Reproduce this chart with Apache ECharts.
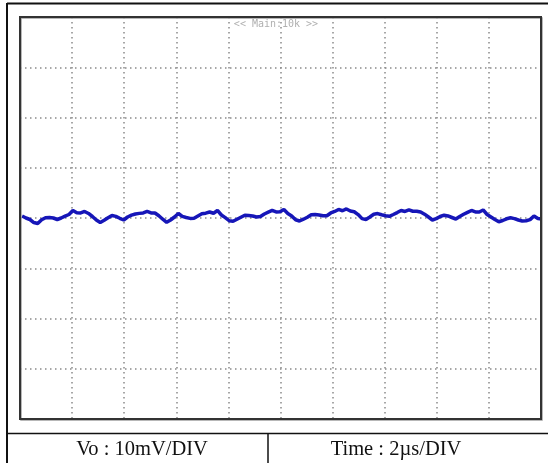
<!DOCTYPE html>
<html>
<head>
<meta charset="utf-8">
<script src="https://cdn.jsdelivr.net/npm/echarts@6/dist/echarts.min.js"></script>
<style>
html,body{margin:0;padding:0;background:#fff;}
#chart{width:548px;height:463px;}
</style>
</head>
<body>
<div id="chart"></div>
<script>
// Time axis: 2 µs/DIV, 10 divisions; Voltage axis: 10 mV/DIV, 8 divisions
const timeDivs = [0, 2, 4, 6, 8, 10, 12, 14, 16, 18, 20];
const voltDivs = [-40, -30, -20, -10, 0, 10, 20, 30, 40];
const sampleStart = 0.08;   // µs
const sampleStep = 0.15;    // µs
// Vo ripple (mV)
const voValues = [
  0.4, 0.0, -0.3, -0.9, -1.1, -0.36, 0.06, 0.12, 0.0, -0.3,
  0.0, 0.36, 0.7, 1.5, 1.04, 1.0, 1.3, 0.9, 0.3, -0.4,
  -0.9, -0.46, 0.04, 0.5, 0.32, -0.06, -0.4, 0.2, 0.56, 0.8,
  0.92, 1.0, 1.3, 1.0, 1.0, 0.44, -0.24, -0.85, -0.4, 0.2,
  0.9, 0.32, 0.1, -0.08, -0.04, 0.4, 0.84, 0.96, 1.2, 0.94,
  1.5, 0.6, 0.08, -0.55, -0.65, -0.24, 0.16, 0.56, 0.48, 0.4,
  0.2, 0.3, 0.8, 1.16, 1.5, 1.2, 1.24, 1.7, 0.9, 0.4,
  -0.35, -0.6, -0.24, 0.16, 0.64, 0.7, 0.6, 0.44, 0.44, 1.0,
  1.3, 1.7, 1.44, 1.8, 1.4, 1.24, 0.68, -0.12, -0.3, 0.2,
  0.74, 0.88, 0.64, 0.44, 0.34, 0.7, 1.08, 1.5, 1.3, 1.6,
  1.34, 1.36, 1.2, 0.76, 0.2, -0.4, -0.12, 0.3, 0.56, 0.4,
  0.1, -0.2, 0.3, 0.74, 1.12, 1.5, 1.2, 1.2, 1.6, 0.7,
  0.2, -0.3, -0.75, -0.5, -0.16, 0.04, -0.12, -0.4, -0.6, -0.55,
  -0.32, 0.4, -0.1, -0.2
];
const header = '<< Main:10k >>';
const leftLabel = 'Vo : 10mV/DIV';
const rightLabel = 'Time : 2\u00b5s/DIV';

const seriesData = voValues.map((v, i) => [sampleStart + i * sampleStep, v]);

const chart = echarts.init(document.getElementById('chart'));
const dotted = { show: true, lineStyle: { color: '#8a8a8a', width: 1.5, type: [1.5, 3.5] } };
chart.setOption({
  animation: false,
  backgroundColor: '#fff',
  grid: { left: 20, top: 17, width: 521, height: 402, show: false },
  xAxis: {
    type: 'value', min: timeDivs[0], max: timeDivs[timeDivs.length - 1], interval: timeDivs[1] - timeDivs[0],
    axisLine: { show: false }, axisTick: { show: false }, axisLabel: { show: false }, splitLine: dotted
  },
  yAxis: {
    type: 'value', min: voltDivs[0], max: voltDivs[voltDivs.length - 1], interval: voltDivs[1] - voltDivs[0],
    axisLine: { show: false }, axisTick: { show: false }, axisLabel: { show: false }, splitLine: dotted
  },
  series: [{
    type: 'line', data: seriesData, showSymbol: false, smooth: false,
    lineStyle: { color: '#1616b8', width: 3.5 }
  }],
  graphic: [
    { type: 'rect', z: 100, shape: { x: 21, y: 18, width: 521, height: 402 }, style: { fill: 'none', stroke: '#a0a0a0', lineWidth: 1.5 } },
    { type: 'rect', z: 101, shape: { x: 20, y: 17, width: 521, height: 402 }, style: { fill: 'none', stroke: '#333', lineWidth: 2 } },
    { type: 'line', shape: { x1: 7, y1: 3.5, x2: 548, y2: 3.5 }, style: { stroke: '#111', lineWidth: 2 } },
    { type: 'line', shape: { x1: 7, y1: 3, x2: 7, y2: 463 }, style: { stroke: '#111', lineWidth: 2 } },
    { type: 'line', shape: { x1: 7, y1: 433.5, x2: 548, y2: 433.5 }, style: { stroke: '#111', lineWidth: 1.5 } },
    { type: 'line', shape: { x1: 268, y1: 433, x2: 268, y2: 463 }, style: { stroke: '#111', lineWidth: 1.5 } },
    { type: 'text', x: 276, y: 24, style: { text: header, fill: '#b0b0b0', font: '10px "DejaVu Sans Mono", monospace', textAlign: 'center', textVerticalAlign: 'middle' } },
    { type: 'text', x: 142, y: 450, style: { text: leftLabel, fill: '#111', font: '20.5px "Liberation Serif", serif', textAlign: 'center', textVerticalAlign: 'middle' } },
    { type: 'text', x: 396, y: 450, style: { text: rightLabel, fill: '#111', font: '20.5px "Liberation Serif", serif', textAlign: 'center', textVerticalAlign: 'middle' } }
  ]
});
</script>
</body>
</html>
